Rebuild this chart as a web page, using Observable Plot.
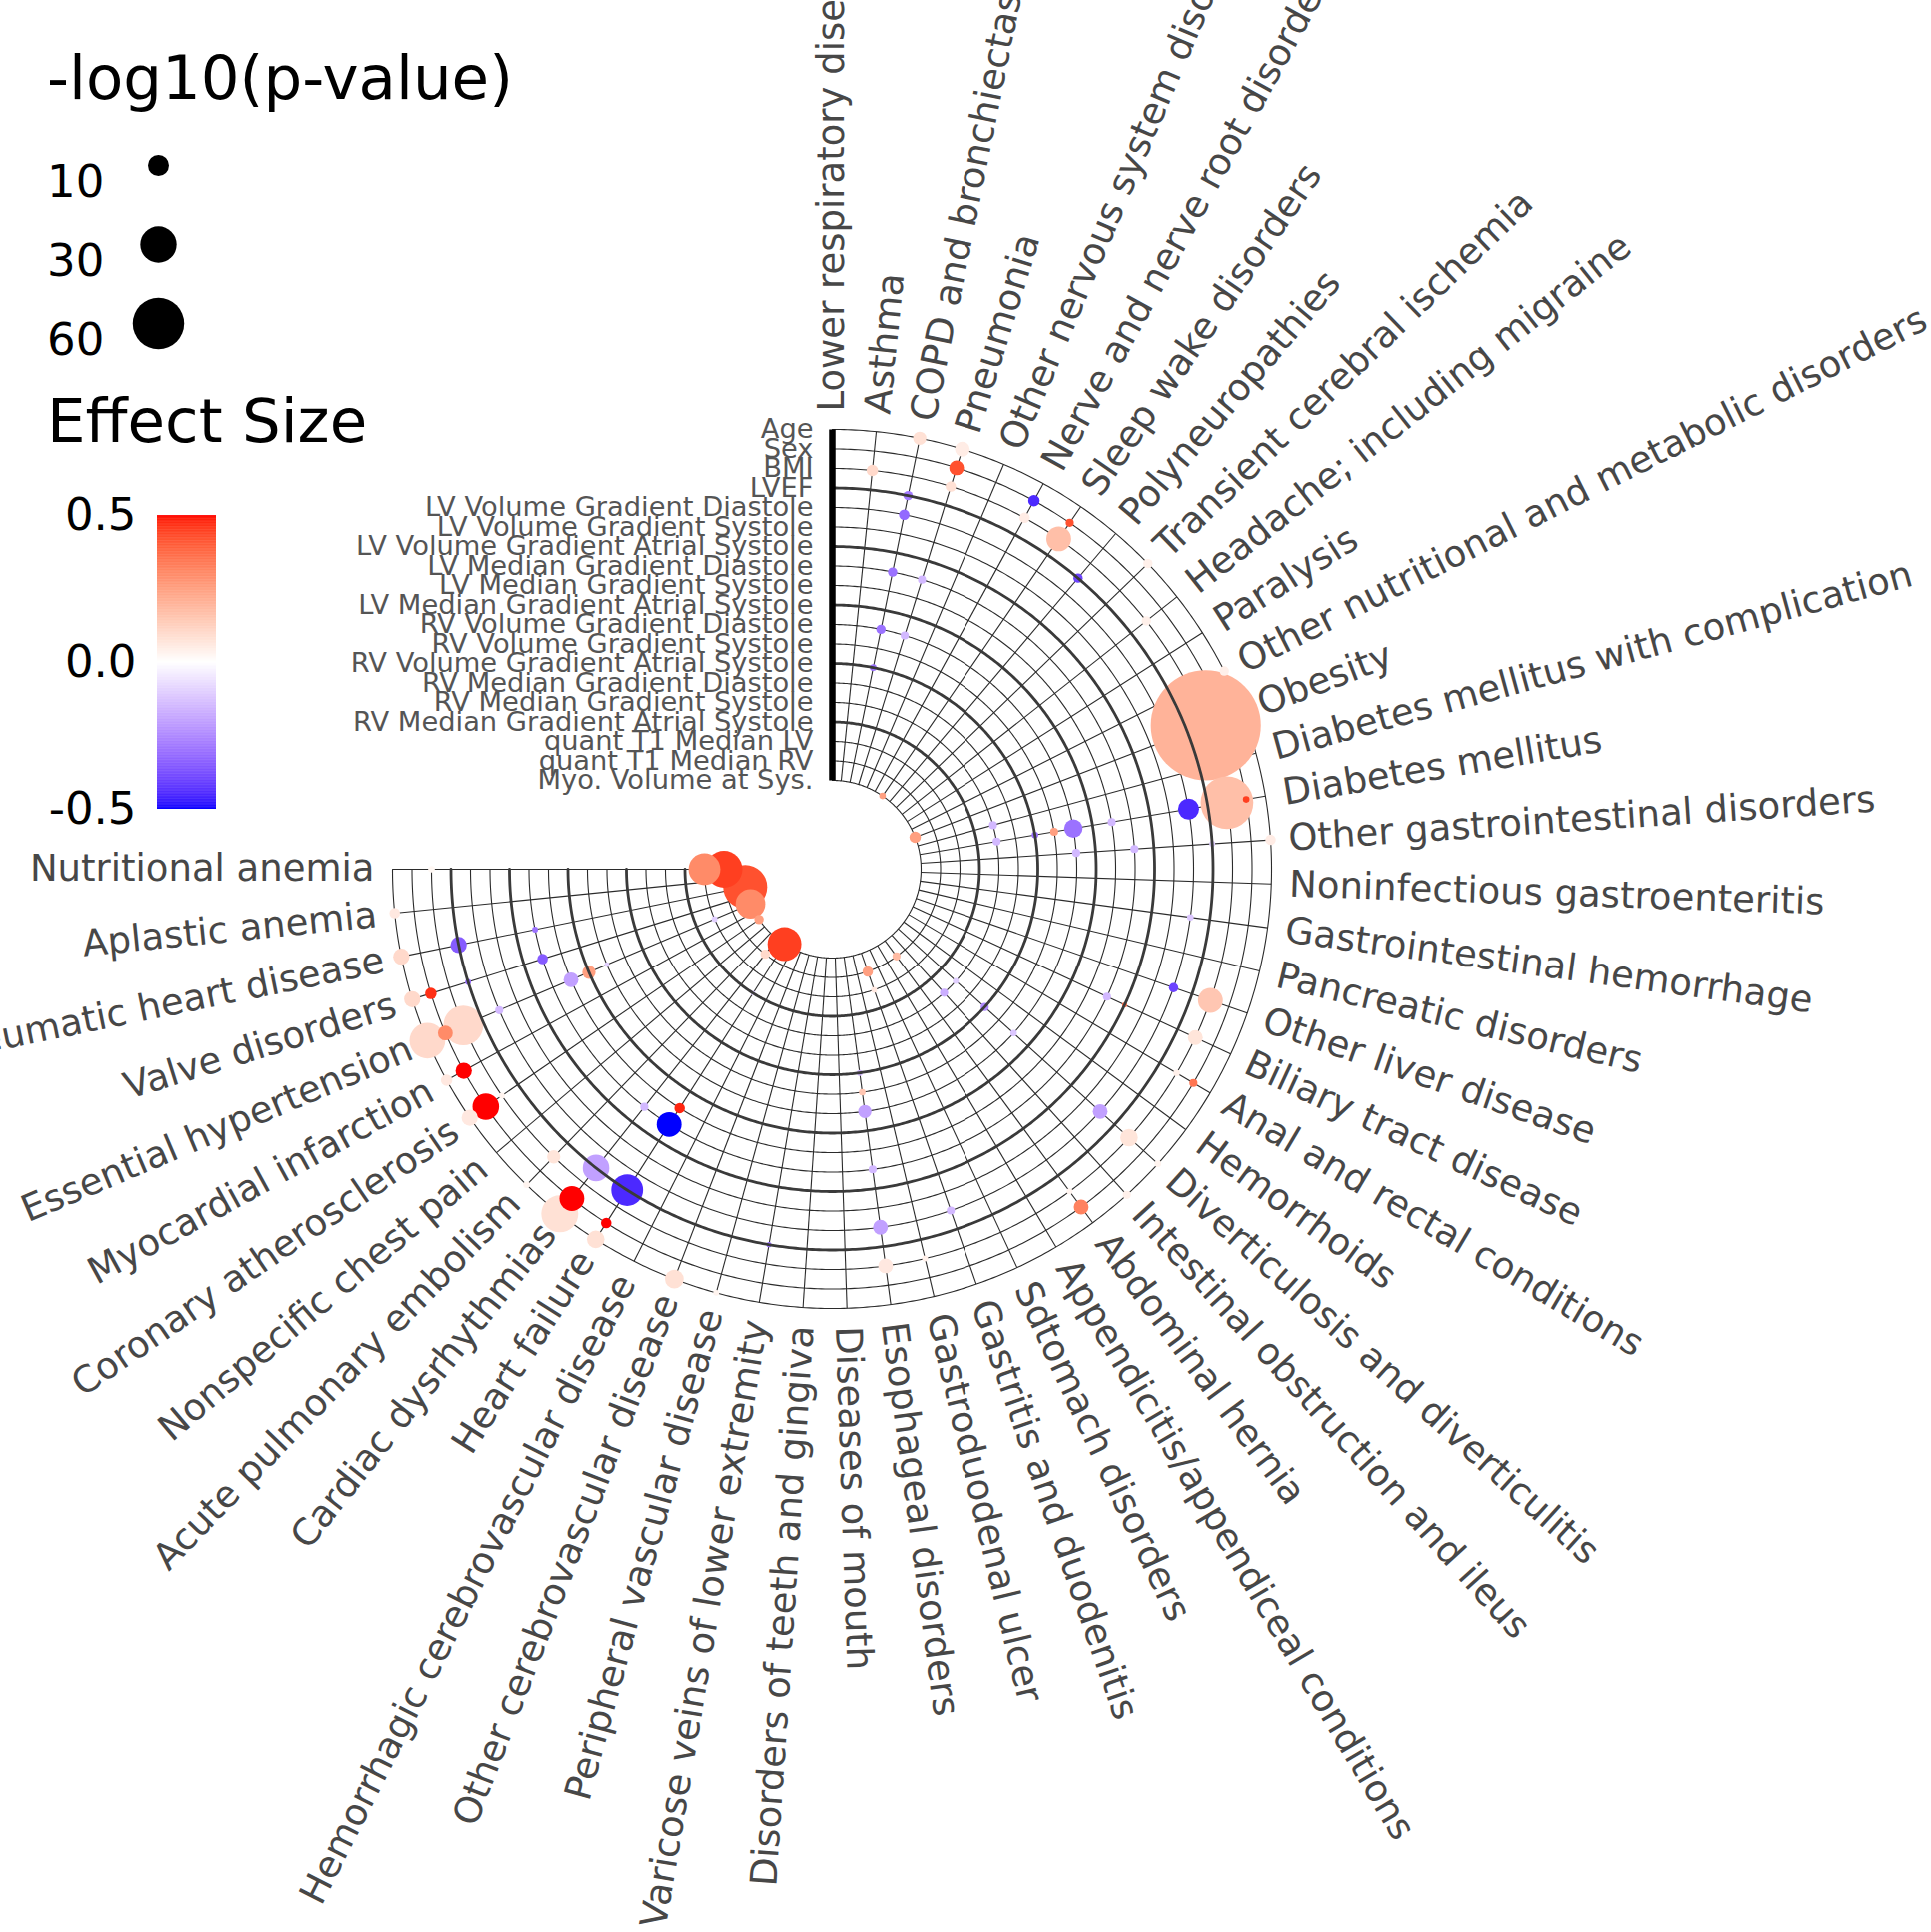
<!DOCTYPE html>
<html>
<head>
<meta charset="utf-8">
<title>Polar dot chart</title>
<script src="https://cdn.jsdelivr.net/npm/d3@7"></script>
<script src="https://cdn.jsdelivr.net/npm/@observablehq/plot@0.6"></script>
<style>
  html, body { margin: 0; padding: 0; background: #fff; }
  #root { position: relative; width: 1932px; height: 1933px; overflow: hidden; font-family: "DejaVu Sans", sans-serif; }
  #root > * { position: absolute; }
  .legend-title { font-size: 61px; line-height: 61px; color: #000; white-space: nowrap; }
</style>
</head>
<body>
<div id="root"></div>
<script>
// ---------------- DATA ----------------
const rows = [
  "Age", "Sex", "BMI", "LVEF",
  "LV Volume Gradient Diastole", "LV Volume Gradient Systole", "LV Volume Gradient Atrial Systole",
  "LV Median Gradient Diastole", "LV Median Gradient Systole", "LV Median Gradient Atrial Systole",
  "RV Volume Gradient Diastole", "RV Volume Gradient Systole", "RV Volume Gradient Atrial Systole",
  "RV Median Gradient Diastole", "RV Median Gradient Systole", "RV Median Gradient Atrial Systole",
  "quant T1 Median LV", "quant T1 Median RV", "Myo. Volume at Sys."
];

const categories = [
  "Lower respiratory disease", "Asthma", "COPD and bronchiectasis", "Pneumonia",
  "Other nervous system disorders", "Nerve and nerve root disorders", "Sleep wake disorders",
  "Polyneuropathies", "Transient cerebral ischemia", "Headache; including migraine", "Paralysis",
  "Other nutritional and metabolic disorders", "Obesity", "Diabetes mellitus with complication",
  "Diabetes mellitus", "Other gastrointestinal disorders", "Noninfectious gastroenteritis",
  "Gastrointestinal hemorrhage", "Pancreatic disorders", "Other liver disease", "Biliary tract disease",
  "Anal and rectal conditions", "Hemorrhoids", "Diverticulosis and diverticulitis",
  "Intestinal obstruction and ileus", "Abdominal hernia", "Appendicitis/appendiceal conditions",
  "Sdtomach disorders", "Gastritis and duodenitis", "Gastroduodenal ulcer", "Esophageal disorders",
  "Diseases of mouth", "Disorders of teeth and gingiva", "Varicose veins of lower extremity",
  "Peripheral vascular disease", "Other cerebrovascular disease", "Hemorrhagic cerebrovascular disease",
  "Heart failure", "Cardiac dysrhythmias", "Acute pulmonary embolism", "Nonspecific chest pain",
  "Coronary atherosclerosis", "Myocardial infarction", "Essential hypertension", "Valve disorders",
  "Rheumatic heart disease", "Aplastic anemia", "Nutritional anemia"
];

// one entry per dot: row index, category index, effect size, -log10(p-value)
const dotRow = [
  0,0,1,2,2,3,4,1,2,1,
  2,3,0,2,7,7,10,10,12,18,
  18,14,14,12,11,10,8,7,4,2,
  1,2,0,0,3,10,4,4,2,7,
  6,2,1,2,4,2,0,0,1,2,
  14,14,12,10,17,17,16,12,11,10,
  7,4,4,2,2,7,8,7,3,16,
  17,18,18,18,18,17,16,0,3,0,
  7,7,8,9,10,1,0,2,0,1,
  4,1,0,1,0,2,3,3,1,0,
  0,1,0,0,0,15,3,2,2
];
const dotCat = [
  2,3,3,1,3,2,2,5,5,6,
  6,7,8,9,2,3,2,3,2,6,
  12,13,14,14,14,14,14,15,14,14,
  14,12,11,15,15,15,17,19,19,20,
  20,20,21,21,23,23,23,24,25,25,
  24,23,23,23,28,25,28,30,30,30,
  30,28,30,30,29,38,37,37,33,47,
  47,45,43,41,37,38,43,46,45,45,
  45,44,43,43,43,44,44,43,43,43,
  43,42,42,41,41,39,38,37,38,38,
  39,37,37,35,34,37,44,41,47
];
const dotEffect = [
  0.08,0.05,0.42,0.10,0.08,-0.28,-0.32,-0.45,0.05,0.42,
  0.17,-0.40,0.04,0.04,-0.30,-0.15,-0.30,-0.15,-0.30,0.25,
  0.25,-0.15,-0.15,-0.30,0.25,-0.30,-0.15,-0.15,-0.45,0.17,
  0.45,0.20,0.04,0.05,-0.10,-0.15,-0.12,-0.40,0.15,-0.15,
  0.35,0.07,0.35,0.04,-0.20,0.07,0.03,0.04,0.32,0.03,
  -0.17,-0.10,-0.25,-0.12,0.25,0.18,0.06,-0.15,0.15,-0.20,
  -0.15,-0.15,-0.20,0.06,0.04,-0.15,0.48,-0.50,-0.30,0.30,
  0.45,0.42,0.30,0.25,0.45,0.10,-0.10,0.06,-0.35,0.10,
  -0.30,-0.35,-0.20,0.25,-0.10,0.47,0.10,0.10,0.10,0.30,
  -0.15,0.50,0.06,0.50,0.06,0.07,-0.20,-0.45,0.50,0.08,
  0.03,0.50,0.08,0.08,0.03,-0.10,-0.30,0.03,0.02
];
const dotLogP = [
  4,5,5,3,2.5,2,2.5,3,2.5,1.5,
  14,2,2,2,2,1.5,2,1.5,1,1,
  3,1.5,1.5,1,1.5,7.7,1.5,1.5,10,63,
  1,275,2,2.5,0.8,1.5,1,2,14,1.5,
  0.6,5,1.5,1,5,7,1,1.5,5,0.8,
  1.5,0.8,1.5,1,2.5,1.5,0.8,0.8,1,4,
  1.5,1.5,5,5,0.8,1.5,2.5,14,0.6,23,
  31,44,20,2,26,2,0.8,2.5,6,6,
  0.8,2.5,5,4,0.5,3,6,36,29,5,
  1.5,6,3,16,6,4,16,23,14,31,
  1,2.5,7,8,0.8,0.5,0.8,0.8,1
];

const legendSizes = [10, 30, 60];
const colorTicks = [-0.5, 0, 0.5];
const majorRows = [3, 6, 9, 12, 15];

// ---------------- LAYOUT ----------------
const FONT = '"DejaVu Sans", sans-serif';
const W = 1932, H = 1933;
const CX = 832, CY = 869, UNIT = 19.5;   // polar centre (px) and px per row
const SPAN = 270;                         // degrees covered by the categories
const nRows = rows.length, nCats = categories.length;
const STEP = SPAN / (nCats - 1);
const HOLE = 89 / UNIT;                   // radius of innermost row
const LABEL_R = 458 / UNIT;               // radius where category labels start
const radius = i => HOLE + (nRows - 1 - i);
const theta = j => j * STEP;
const toX = (u, deg) => u * Math.sin(deg * Math.PI / 180);
const toY = (u, deg) => u * Math.cos(deg * Math.PI / 180);

const colorOpts = {
  type: "linear", domain: [-0.5, 0.5], clamp: true,
  interpolate: d3.piecewise(d3.interpolateLab, ["#0000ff", "#ffffff", "#ff0000"])
};
const rOpts = {type: "sqrt", domain: [0, 100], range: [0, 33.2]};

const dots = dotRow.map((row, n) => ({row, cat: dotCat[n], effect: dotEffect[n], logp: dotLogP[n]}));

const arcDegs = d3.range(0, SPAN + 0.25, 0.5);
const ringPts = rows.flatMap((_, i) => arcDegs.map(t => ({ring: i, u: radius(i), t})));
const majorPts = majorRows.flatMap(i => arcDegs.map(t => ({ring: i, u: radius(i), t})));

const chart = Plot.plot({
  width: W, height: H, margin: 0,
  style: {fontFamily: FONT, background: "white"},
  x: {domain: [-CX / UNIT, (W - CX) / UNIT], axis: null},
  y: {domain: [-(H - CY) / UNIT, CY / UNIT], axis: null},
  color: colorOpts,
  r: rOpts,
  marks: [
    Plot.line(ringPts, {x: d => toX(d.u, d.t), y: d => toY(d.u, d.t), z: "ring", stroke: "#2b2b2b", strokeWidth: 1.1}),
    Plot.link(categories, {
      x1: (d, j) => toX(HOLE, theta(j)), y1: (d, j) => toY(HOLE, theta(j)),
      x2: (d, j) => toX(radius(0), theta(j)), y2: (d, j) => toY(radius(0), theta(j)),
      stroke: "#2b2b2b", strokeWidth: 1.1
    }),
    Plot.dot(dots, {
      x: d => toX(radius(d.row), theta(d.cat)),
      y: d => toY(radius(d.row), theta(d.cat)),
      r: "logp", fill: "effect", stroke: "none"
    }),
    Plot.line(majorPts, {x: d => toX(d.u, d.t), y: d => toY(d.u, d.t), z: "ring", stroke: "#3a3a3a", strokeWidth: 2.8}),
    Plot.link([0], {x1: () => 0, y1: () => HOLE, x2: () => 0, y2: () => radius(0), stroke: "black", strokeWidth: 6.5}),
    Plot.text(rows, {
      x: () => 0, y: (d, i) => radius(i), text: d => d,
      textAnchor: "end", dx: -19, fontSize: 27.3, fill: "#555"
    }),
    Plot.text(categories, {
      filter: (d, j) => theta(j) <= 180,
      x: (d, j) => toX(LABEL_R, theta(j)), y: (d, j) => toY(LABEL_R, theta(j)),
      text: d => d, rotate: (d, j) => theta(j) - 90,
      textAnchor: "start", fontSize: 37, fill: "#474747"
    }),
    Plot.text(categories, {
      filter: (d, j) => theta(j) > 180,
      x: (d, j) => toX(LABEL_R, theta(j)), y: (d, j) => toY(LABEL_R, theta(j)),
      text: d => d, rotate: (d, j) => theta(j) - 270,
      textAnchor: "end", fontSize: 37, fill: "#474747"
    })
  ]
});

// size legend
const sizeLegend = Plot.plot({
  width: 240, height: 400, margin: 0,
  style: {fontFamily: FONT, background: "transparent"},
  x: {domain: [0, 1], range: [158, 220], axis: null},
  y: {type: "point", domain: legendSizes, range: [164, 323], padding: 0, axis: null},
  r: rOpts,
  marks: [
    Plot.dot(legendSizes, {x: () => 0, y: d => d, r: d => d, fill: "black", stroke: "none"}),
    Plot.text(legendSizes, {x: () => 0, y: d => d, text: d => String(d), textAnchor: "start", dx: -111.5, dy: 17.5, fontSize: 45, fill: "black"})
  ]
});

// colour bar
const rampStops = d3.range(-0.5, 0.5, 0.0025);
const colorBar = Plot.plot({
  width: 240, height: 384, marginTop: 45, marginBottom: 45, marginLeft: 157, marginRight: 24,
  style: {fontFamily: FONT, background: "transparent"},
  x: {domain: [0, 1], axis: null},
  y: {domain: [-0.5, 0.5], axis: null},
  color: colorOpts,
  marks: [
    Plot.rect(rampStops, {x1: () => 0, x2: () => 1, y1: d => d, y2: d => Math.min(0.5, d + 0.004), fill: d => d + 0.00125}),
    Plot.text(colorTicks, {x: () => 0, y: d => d, text: d => d.toFixed(1), textAnchor: "end", dx: -21, fontSize: 45, fill: "black"})
  ]
});

const root = document.getElementById("root");
chart.style.left = "0px"; chart.style.top = "0px";
root.append(chart);

const t1 = document.createElement("div");
t1.className = "legend-title"; t1.textContent = "-log10(p-value)";
t1.style.left = "47px"; t1.style.top = "47px";
root.append(t1);

sizeLegend.style.left = "0px"; sizeLegend.style.top = "0px";
root.append(sizeLegend);

const t2 = document.createElement("div");
t2.className = "legend-title"; t2.textContent = "Effect Size";
t2.style.left = "47px"; t2.style.top = "390px";
root.append(t2);

colorBar.style.left = "0px"; colorBar.style.top = "470px";
root.append(colorBar);
</script>
</body>
</html>
